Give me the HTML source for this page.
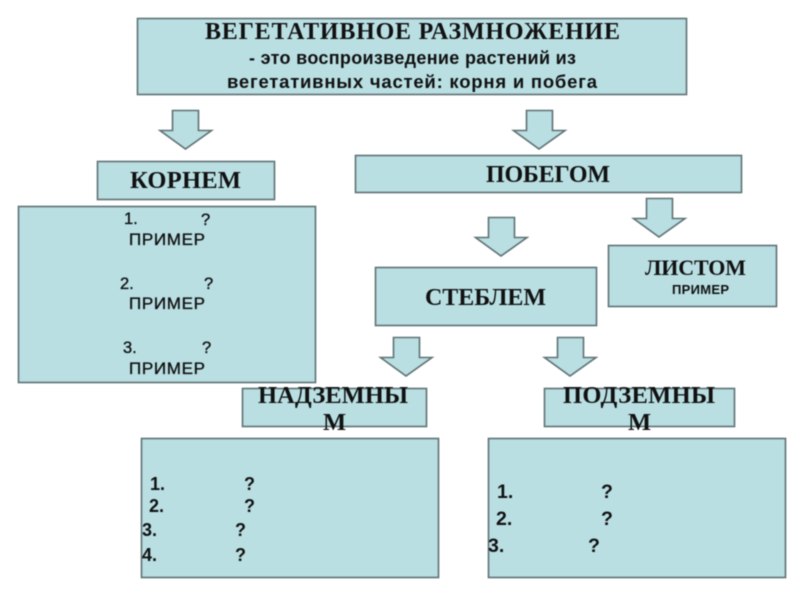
<!DOCTYPE html>
<html lang="ru">
<head>
<meta charset="utf-8">
<title>Вегетативное размножение</title>
<style>
html,body{margin:0;padding:0;background:#fff}
svg{display:block;filter:blur(.4px)}
.b{fill:#b9dfe3;stroke:#5f7173;stroke-width:1.6}
.s{font-family:"Liberation Serif",serif;font-weight:bold;fill:#111}
.a{font-family:"Liberation Sans",sans-serif;font-weight:bold;fill:#111}
.r{font-family:"Liberation Sans",sans-serif;fill:#111;stroke:#111;stroke-width:.35}
</style>
</head>
<body>
<svg width="800" height="600" viewBox="0 0 800 600" xmlns="http://www.w3.org/2000/svg">
<rect width="800" height="600" fill="#fff"/>
<rect class="b" x="137.5" y="18.5" width="549" height="76"/>
<rect class="b" x="97.5" y="161.5" width="177" height="38"/>
<rect class="b" x="18.5" y="206.5" width="297" height="176"/>
<rect class="b" x="355.5" y="155.5" width="386" height="37"/>
<rect class="b" x="375.5" y="267.5" width="221" height="58"/>
<rect class="b" x="608.5" y="245.5" width="168" height="61"/>
<rect class="b" x="242.5" y="388.5" width="184" height="38"/>
<rect class="b" x="544.5" y="388.5" width="190" height="38"/>
<rect class="b" x="141.5" y="438.5" width="297" height="139"/>
<rect class="b" x="488.5" y="438.5" width="297" height="139"/>

<polygon class="b" points="172.5,110.5 198.5,110.5 198.5,130.5 211.5,130.5 185.5,149 160,130.5 172.5,130.5"/>
<polygon class="b" points="526.5,110.5 552.5,110.5 552.5,130.5 565,130.5 539,149 513.5,130.5 526.5,130.5"/>
<polygon class="b" points="488.5,217.5 514.5,217.5 514.5,237.5 527,237.5 501,256 475.5,237.5 488.5,237.5"/>
<polygon class="b" points="646.5,198.5 672.5,198.5 672.5,218.5 685,218.5 659,237 633.5,218.5 646.5,218.5"/>
<polygon class="b" points="393.5,337.5 419.5,337.5 419.5,357.5 432,357.5 406,376 380.5,357.5 393.5,357.5"/>
<polygon class="b" points="557.5,337.5 583.5,337.5 583.5,357.5 596,357.5 570,376 544.5,357.5 557.5,357.5"/>

<text class="s" x="205" y="39" font-size="24" textLength="415">ВЕГЕТАТИВНОЕ РАЗМНОЖЕНИЕ</text>
<text class="a" x="249" y="64" font-size="18" textLength="327">- это воспроизведение растений из</text>
<text class="a" x="227" y="88" font-size="18.5" textLength="370">вегетативных частей: корня и побега</text>

<text class="s" x="130" y="188" font-size="24.5" textLength="111">КОРНЕМ</text>
<text class="s" x="486" y="182" font-size="24" textLength="124">ПОБЕГОМ</text>
<text class="s" x="425" y="305" font-size="24" textLength="121">СТЕБЛЕМ</text>
<text class="s" x="645" y="275" font-size="22" textLength="101">ЛИСТОМ</text>
<text class="a" x="672" y="294" font-size="13" textLength="57">ПРИМЕР</text>

<text class="s" x="258" y="403" font-size="24.5" textLength="150">НАДЗЕМНЫ</text>
<text class="s" x="323" y="430" font-size="24.5">М</text>
<text class="s" x="563" y="403" font-size="24.5" textLength="152">ПОДЗЕМНЫ</text>
<text class="s" x="628" y="430" font-size="24.5">М</text>

<g class="r" font-size="16.5">
<text x="124" y="224">1.</text><text x="201" y="225">?</text>
<text x="129" y="245" font-size="17" textLength="76">ПРИМЕР</text>
<text x="120" y="289">2.</text><text x="204" y="289">?</text>
<text x="129" y="309" font-size="17" textLength="76">ПРИМЕР</text>
<text x="123" y="353">3.</text><text x="202" y="353">?</text>
<text x="129" y="374" font-size="17" textLength="76">ПРИМЕР</text>
</g>

<g class="a" font-size="18">
<text x="150" y="490">1.</text><text x="244" y="490">?</text>
<text x="149" y="512">2.</text><text x="244" y="512">?</text>
<text x="142" y="536">3.</text><text x="235" y="536">?</text>
<text x="142" y="561">4.</text><text x="235" y="561">?</text>
</g>
<g class="a" font-size="19.5">
<text x="497" y="498">1.</text><text x="601" y="498">?</text>
<text x="496" y="525">2.</text><text x="601" y="525">?</text>
<text x="488" y="552">3.</text><text x="588" y="552">?</text>
</g>
</svg>
</body>
</html>
